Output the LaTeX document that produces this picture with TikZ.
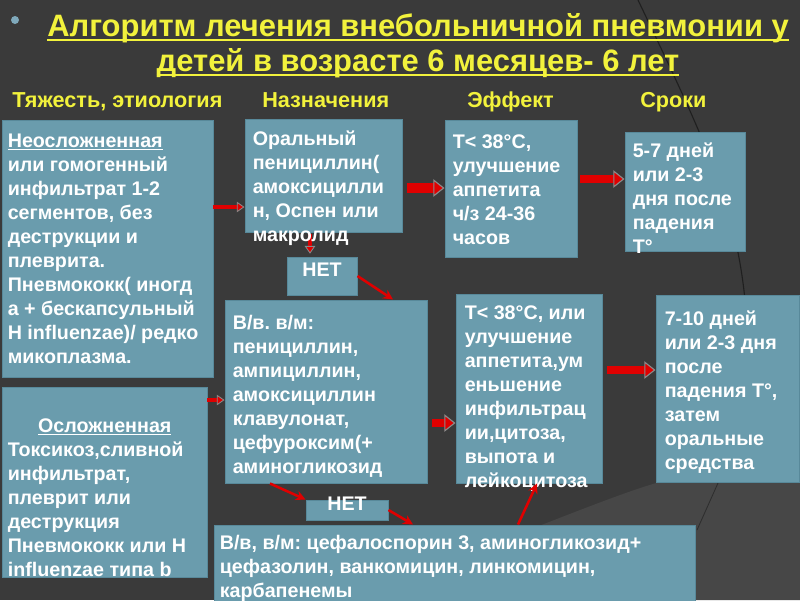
\documentclass[tikz,border=0pt]{standalone}
\usepackage{fontspec}
\setmainfont{Liberation Sans}
\usetikzlibrary{arrows.meta, positioning, fit, calc}
\definecolor{slidebg}{HTML}{3A3A3A}
\definecolor{slideshade}{HTML}{474747}
\definecolor{boxteal}{HTML}{6A9CAD}
\definecolor{boxedge}{HTML}{58899A}
\definecolor{titleyellow}{HTML}{F2F23C}
\definecolor{arrred}{HTML}{E00000}
\definecolor{arrgray}{HTML}{8A8A8A}
\definecolor{dotblue}{HTML}{7FA9BB}
\newcommand{\uln}[3]{\setbox0\hbox{#3}\rlap{\rule[-#2]{\wd0}{#1}}\box0}
\frenchspacing

\begin{document}
\begin{tikzpicture}[
    x=0.025cm, y=-0.025cm,
    box/.style={draw=boxedge, fill=boxteal, line width=0.7pt, inner sep=0pt, text=white, font=\fontsize{14}{17.07}\selectfont\bfseries},
    txt/.style={anchor=north west, inner sep=0pt, align=left, text=white, font=\fontsize{14}{17.07}\selectfont\bfseries\frenchspacing, execute at begin node=\strut},
    ttl/.style={anchor=base, inner sep=0pt, text=titleyellow, font=\fontsize{22}{24}\selectfont\bfseries},
    hdr/.style={anchor=base west, inner sep=0pt, text=titleyellow, font=\fontsize{15.4}{18}\selectfont\bfseries},
    bigarr/.style={draw=arrred, line width=#1, -{Triangle[length=8pt, width=12.5pt, fill=arrred, color=arrgray, line width=0.8pt]}},
    bigarr/.default=6pt,
    smallarr/.style={draw=arrred, line width=2.8pt, -{Triangle[length=5.5pt, width=7.5pt, fill=arrred, color=arrgray, line width=0.6pt]}},
    thinarr/.style={draw=arrred, line width=1.8pt, -{Stealth[length=7pt, width=7pt]}},
]
\useasboundingbox (0,0) rectangle (800,600);
\fill[slidebg] (0,0) rectangle (800,600);
\fill[slideshade] (490,545) .. controls (580,510) and (630,490) .. (660,482) -- (800,468) -- (800,600) -- (490,600) -- cycle;
\draw[black, opacity=0.45, line width=0.8pt] (638,0) .. controls (700,130) and (735,200) .. (745,300);
\draw[black, opacity=0.35, line width=0.6pt] (718,483) -- (697,530);
\fill[dotblue] (15,20) circle (4);

\node[ttl] (ttl1) at (418,36) {\uln{1.4pt}{3.2pt}{Алгоритм лечения внебольничной пневмонии у}};
\node[ttl] (ttl2) at (418,71) {\uln{1.4pt}{3.2pt}{детей в возрасте 6 месяцев- 6 лет}};

\node[hdr] (hsev) at (12,107) {Тяжесть, этиология};
\node[hdr] (hrx) at (262,107) {Назначения};
\node[hdr] (heff) at (467,107) {Эффект};
\node[hdr] (hterm) at (640,107) {Сроки};

\node[box, fit={(2,120)(213,377)}] (uncompl) {};
\node[box, fit={(245,119)(402,232)}] (oral) {};
\node[box, fit={(445,120)(577,257)}] (effect1) {};
\node[box, fit={(625,132)(745,251)}] (term1) {};
\node[box, fit={(287,257)(357,295)}] (no1) {НЕТ};
\node[box, fit={(225,300)(427,483)}] (iv) {};
\node[box, fit={(456,294)(602,483)}] (effect2) {};
\node[box, fit={(656,295)(799,482)}] (term2) {};
\node[box, fit={(2,387)(207,577)}] (compl) {};
\node[box, fit={(306,500)(388,520)}] (no2) {НЕТ};
\node[box, fit={(214,525)(695,610)}] (reserve) {};

\coordinate (rowAB) at (0,207);
\coordinate (rowBC) at (0,188);
\coordinate (rowCD) at (0,179);
\coordinate (colBN) at (310,0);
\coordinate (rowHE) at (0,400);
\coordinate (rowEF) at (0,423);
\coordinate (rowFG) at (0,370);
\coordinate (colNE) at (393,0);
\coordinate (colEN) at (270,0);
\coordinate (colNI) at (413,0);
\coordinate (colIF) at (518,0);
\coordinate (colFI) at (537,0);

\draw[smallarr, shorten <=1pt, shorten >=2pt] (oral.south -| colBN) -- (no1.north -| colBN);

\node[txt] (uncompltxt) at ([shift={(6,14)}]uncompl.north west)
  {\uln{1pt}{2pt}{Неосложненная}\\или гомогенный\\инфильтрат 1-2\\сегментов, без\\деструкции и\\плеврита.\\Пневмококк( иногд\\а + бескапсульный\\H influenzae)/ редко\\микоплазма.};
\node[txt] (oraltxt) at ([shift={(8,12)}]oral.north west)
  {Оральный\\пенициллин(\\амоксицилли\\н, Оспен или\\макролид};
\node[txt] (effect1txt) at ([shift={(8,15)}]effect1.north west)
  {T< 38°C,\\улучшение\\аппетита\\ч/з 24-36\\часов};
\node[txt] (term1txt) at ([shift={(8,11)}]term1.north west)
  {5-7 дней\\или 2-3\\дня после\\падения\\T°};
\node[txt] (ivtxt) at ([shift={(8,15)}]iv.north west)
  {В/в. в/м:\\пенициллин,\\ампициллин,\\амоксициллин\\клавулонат,\\цефуроксим(+\\аминогликозид};
\node[txt] (effect2txt) at ([shift={(9,12)}]effect2.north west)
  {T< 38°C, или\\улучшение\\аппетита,ум\\еньшение\\инфильтрац\\ии,цитоза,\\выпота и\\лейкоцитоза};
\node[txt] (term2txt) at ([shift={(9,16)}]term2.north west)
  {7-10 дней\\или 2-3 дня\\после\\падения T°,\\затем\\оральные\\средства};
\node[txt] (compltxt) at ([shift={(6,32)}]compl.north west)
  {\makebox[4.85cm]{\uln{1pt}{2pt}{Осложненная}}\\Токсикоз,сливной\\инфильтрат,\\плеврит или\\деструкция\\Пневмококк или H\\influenzae типа b};
\node[txt] (reservetxt) at ([shift={(6,10)}]reserve.north west)
  {В/в, в/м: цефалоспорин 3, аминогликозид+\\цефазолин, ванкомицин, линкомицин,\\карбапенемы};

\draw[smallarr] (uncompl.east |- rowAB) -- (oral.west |- rowAB);
\draw[bigarr=7pt, shorten <=3.5pt] (oral.east |- rowBC) -- (effect1.west |- rowBC);
\draw[bigarr=5.7pt, shorten <=2pt] (effect1.east |- rowCD) -- (term1.west |- rowCD);
\draw[thinarr] (no1.east) -- (iv.north -| colNE);
\draw[smallarr] (compl.east |- rowHE) -- (iv.west |- rowHE);
\draw[bigarr=5.7pt, shorten <=3.5pt] (iv.east |- rowEF) -- (effect2.west |- rowEF);
\draw[bigarr=5pt, shorten <=3.5pt] (effect2.east |- rowFG) -- (term2.west |- rowFG);
\draw[thinarr] (iv.south -| colEN) -- (no2.north west);
\draw[thinarr] (no2.east) -- (reserve.north -| colNI);
\draw[thinarr] (reserve.north -| colIF) -- (effect2.south -| colFI);
\end{tikzpicture}
\end{document}
